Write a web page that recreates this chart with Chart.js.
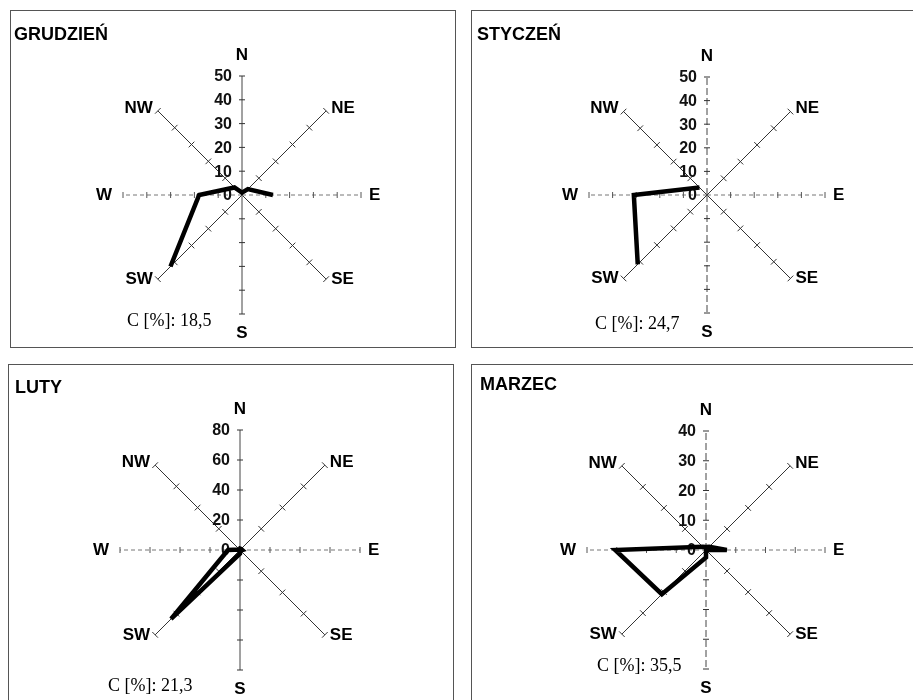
<!DOCTYPE html>
<html lang="pl">
<head>
<meta charset="utf-8">
<title>Róże wiatrów XII–III</title>
<script src="https://cdn.jsdelivr.net/npm/chart.js@4/dist/chart.umd.min.js"></script>
<style>
  html, body { margin: 0; padding: 0; background: #fff; }
  body { width: 913px; height: 700px; overflow: hidden; position: relative; }
  .panel { position: absolute; box-sizing: border-box; border: 1px solid #555; background: #fff; overflow: hidden; }
  .panel canvas { position: absolute; left: 0; top: 0; }
  .tytul { position: absolute; font: bold 18px "Liberation Sans", Arial, sans-serif; line-height: 18px; color: #000; white-space: nowrap; }
  .cisza { position: absolute; font: 18px "Liberation Serif", "Times New Roman", serif; line-height: 18px; color: #000; white-space: nowrap; }
</style>
</head>
<body>
<script>
// kierunki wiatru (kolejność zgodnie z ruchem wskazówek zegara od N)
const kierunki = ['N', 'NE', 'E', 'SE', 'S', 'SW', 'W', 'NW'];

// częstość wiatrów z danego kierunku [%], null = brak danych
const grudzien = [1, 3.5, 13, null, null, 42.5, 18, 4.5];
const styczen = [null, null, null, null, null, 41.5, 31, 4.5];
const luty = [1, 1, 1.5, 0.5, 2.5, 65, 8, 0.5];
const marzec = [1, 1.5, 7, 0, 2.5, 21, 30.5, 1.5];

// nazwy miesięcy i udział cisz
const miesiace = ['GRUDZIEŃ', 'STYCZEŃ', 'LUTY', 'MARZEC'];
const cisze = ['18,5', '24,7', '21,3', '35,5'];

// zakres i podziałka osi dla każdego wykresu
const maksima = [50, 50, 80, 40];
const kroki = [10, 10, 20, 10];

// rozmieszczenie ramek na stronie
const panele = [
  { left: 10,  top: 10,  width: 446, height: 338, cx: 231, cy: 184, r: 119, tx: 3, ty: 14, cX: 116, cY: 300, osNS: [], dane: grudzien },
  { left: 471, top: 10,  width: 450, height: 338, cx: 235, cy: 184, r: 118, tx: 5, ty: 14, cX: 123, cY: 303, osNS: [7, 3], dane: styczen },
  { left: 8,   top: 364, width: 446, height: 345, cx: 231, cy: 185, r: 120, tx: 6, ty: 13, cX: 99,  cY: 311, osNS: [], dane: luty },
  { left: 471, top: 364, width: 450, height: 345, cx: 234, cy: 185, r: 119, tx: 8, ty: 10, cX: 125, cY: 291, osNS: [7, 3], dane: marzec }
];

// osie róży: kreski podziałki, opisy wartości i nazwy kierunków
const osieRozy = {
  id: 'osieRozy',
  beforeDatasetsDraw(chart) {
    const scale = chart.scales.r;
    const ctx = chart.ctx;
    const step = scale.options.ticks.stepSize;
    const max = scale.max;
    ctx.save();

    // kreski podziałki prostopadłe do każdej osi
    chart.data.labels.forEach((label, i) => {
      const a = scale.getIndexAngle(i) - Math.PI / 2;
      const px = -Math.sin(a);
      const py = Math.cos(a);
      const len = (i % 2 === 0) ? 3 : 4;
      ctx.strokeStyle = (i % 4 === 2) ? '#555' : '#333';
      ctx.lineWidth = 1;
      for (let v = step; v <= max; v += step) {
        const p = scale.getPointPositionForValue(i, v);
        ctx.beginPath();
        ctx.moveTo(p.x - px * len, p.y - py * len);
        ctx.lineTo(p.x + px * len, p.y + py * len);
        ctx.stroke();
      }
    });

    // wartości na osi N, po lewej stronie
    ctx.fillStyle = '#111';
    ctx.font = 'bold 16px "Liberation Sans", Arial, sans-serif';
    ctx.textAlign = 'right';
    ctx.textBaseline = 'middle';
    for (let v = 0; v <= max; v += step) {
      const p = scale.getPointPositionForValue(0, v);
      ctx.fillText(String(v), p.x - 10, p.y + 1);
    }

    // nazwy kierunków
    ctx.fillStyle = '#000';
    ctx.font = 'bold 17px "Liberation Sans", Arial, sans-serif';
    const R = scale.drawingArea;
    chart.data.labels.forEach((label, i) => {
      let p;
      if (i === 0) {
        p = scale.getPointPosition(i, R + 21);
        ctx.textAlign = 'center';
      } else if (i === 4) {
        p = scale.getPointPosition(i, R + 19);
        ctx.textAlign = 'center';
      } else if (i === 2) {
        p = scale.getPointPosition(i, R + 8);
        ctx.textAlign = 'left';
      } else if (i === 6) {
        p = scale.getPointPosition(i, R + 11);
        ctx.textAlign = 'right';
      } else {
        p = scale.getPointPosition(i, R);
        const prawa = p.x > scale.xCenter;
        p = { x: p.x + (prawa ? 5 : -5), y: p.y + (p.y < scale.yCenter ? -3 : 0) };
        ctx.textAlign = prawa ? 'left' : 'right';
      }
      ctx.fillText(label, p.x, p.y);
    });

    ctx.restore();
  }
};

panele.forEach((panel, k) => {
  // ramka wykresu
  const div = document.createElement('div');
  div.className = 'panel';
  div.style.left = panel.left + 'px';
  div.style.top = panel.top + 'px';
  div.style.width = panel.width + 'px';
  div.style.height = panel.height + 'px';

  const canvas = document.createElement('canvas');
  const w = panel.width - 2;
  const h = panel.height - 2;
  canvas.width = w;
  canvas.height = h;
  canvas.style.width = w + 'px';
  canvas.style.height = h + 'px';
  div.appendChild(canvas);

  // tytuł miesiąca
  const tytul = document.createElement('div');
  tytul.className = 'tytul';
  tytul.style.left = panel.tx + 'px';
  tytul.style.top = panel.ty + 'px';
  tytul.textContent = miesiace[k];
  div.appendChild(tytul);

  // udział cisz
  const cisza = document.createElement('div');
  cisza.className = 'cisza';
  cisza.style.left = panel.cX + 'px';
  cisza.style.top = panel.cY + 'px';
  cisza.textContent = 'C [%]: ' + cisze[k];
  div.appendChild(cisza);

  document.body.appendChild(div);

  new Chart(canvas.getContext('2d'), {
    type: 'radar',
    data: {
      labels: kierunki,
      datasets: [{
        data: panel.dane,
        borderColor: '#000',
        borderWidth: 4.5,
        borderJoinStyle: 'miter',
        pointRadius: 0,
        pointHoverRadius: 0,
        fill: false,
        spanGaps: false,
        tension: 0
      }]
    },
    plugins: [osieRozy],
    options: {
      responsive: false,
      animation: false,
      layout: {
        // środek róży w zadanym miejscu, promień = r
        padding: {
          left: panel.cx - panel.r,
          right: w - panel.cx - panel.r,
          top: panel.cy - panel.r,
          bottom: h - panel.cy - panel.r
        }
      },
      plugins: {
        legend: { display: false },
        tooltip: { enabled: false }
      },
      scales: {
        r: {
          min: 0,
          max: maksima[k],
          ticks: { display: false, stepSize: kroki[k] },
          grid: { display: false },
          pointLabels: { display: false },
          angleLines: {
            display: true,
            lineWidth: 1,
            color: (c) => (c.index % 4 === 2) ? '#777' : (c.index % 4 === 0 ? '#444' : '#333'),
            borderDash: (c) => (c.index % 4 === 2) ? [4, 3] : (c.index % 4 === 0 ? panel.osNS : [])
          }
        }
      }
    }
  });
});
</script>
</body>
</html>
